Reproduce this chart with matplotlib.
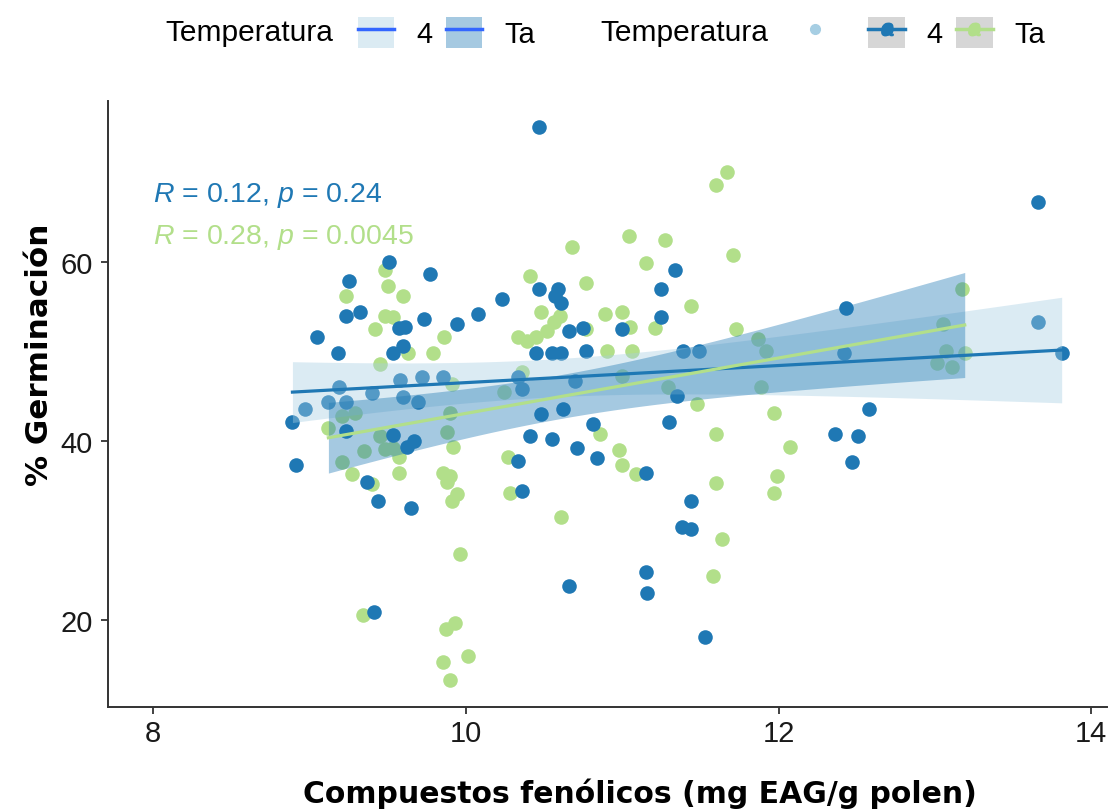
import numpy as np
import matplotlib.pyplot as plt
from matplotlib.patches import Patch
from matplotlib.lines import Line2D

plt.rcParams['font.family'] = ['Liberation Sans', 'DejaVu Sans']
plt.rcParams['mathtext.fontset'] = 'custom'
plt.rcParams['mathtext.rm'] = 'Liberation Sans'
plt.rcParams['mathtext.it'] = 'Liberation Sans:italic'

# fenolicos (mg EAG/g polen) y % germinacion, temperatura 4
x_4 = [9.51, 9.25, 9.77, 9.23, 9.32, 9.05, 9.18, 9.57, 9.61, 9.73, 9.94, 10.08,
       10.23, 9.53, 9.60, 10.47, 10.59, 10.57, 10.61, 10.45, 10.55, 10.61, 10.48,
       10.62, 10.41, 10.55, 8.89, 9.23, 9.53, 9.62, 9.67, 8.91, 10.33, 9.37, 9.44,
       9.65, 10.36, 9.41, 10.66, 9.19, 9.40, 9.58, 9.72, 9.85, 9.60, 9.69, 9.12,
       9.23, 8.97, 10.33, 10.36, 10.47, 11.34, 11.25, 11.25, 10.66, 10.75, 11.00,
       10.77, 11.39, 11.49, 10.70, 11.35, 10.81, 11.30, 10.71, 10.84, 11.15, 11.44,
       11.38, 11.44, 12.36, 11.15, 11.16, 11.53, 12.43, 13.66, 13.81, 12.58, 12.51,
       12.47, 12.42, 13.66]
y_4 = [60.0, 57.9, 58.7, 54.0, 54.4, 51.7, 49.9, 52.7, 52.8, 53.7, 53.1, 54.2,
       55.9, 49.9, 50.6, 57.0, 57.0, 56.2, 55.5, 49.9, 49.9, 49.9, 43.0,
       43.6, 40.6, 40.3, 42.2, 41.1, 40.7, 39.4, 40.0, 37.3, 37.8, 35.5, 33.3,
       32.6, 34.4, 20.9, 23.8, 46.1, 45.4, 46.8, 47.2, 47.2, 45.0, 44.4, 44.4,
       44.4, 43.6, 47.2, 45.8, 75.1, 59.2, 57.0, 53.9, 52.3, 52.7, 52.5,
       50.1, 50.1, 50.1, 46.7, 45.1, 41.9, 42.2, 39.2, 38.1, 36.5, 33.3,
       30.4, 30.2, 40.8, 25.4, 23.0, 18.1, 54.9, 53.3, 49.9, 43.6, 40.6,
       37.7, 49.9, 66.7]

# temperatura ambiente (Ta)
x_ta = [9.48, 9.50, 9.60, 9.23, 9.42, 9.48, 9.53, 9.86, 9.79, 9.63, 10.41, 10.48,
        10.33, 10.39, 10.45, 10.52, 10.56, 10.60, 9.45, 9.12, 9.91, 10.36, 9.92,
        10.27, 10.24, 9.21, 9.29, 9.35, 9.45, 9.48, 9.53, 9.90, 9.88, 9.21, 9.57,
        9.27, 9.40, 9.57, 9.85, 9.90, 9.88, 9.94, 9.91, 10.28, 10.61, 9.96, 9.34,
        9.87, 9.93, 9.85, 10.01, 9.90, 11.67, 11.60, 11.04, 11.27, 10.68, 11.71,
        11.15, 10.77, 11.44, 10.89, 11.00, 11.05, 11.21, 10.77, 11.73, 10.90, 11.06,
        11.87, 11.92, 11.00, 11.29, 11.89, 11.48, 11.97, 10.86, 11.60, 12.07, 10.98,
        11.00, 11.09, 11.60, 11.99, 11.97, 11.64, 11.58, 13.17, 13.05, 13.07, 13.01,
        13.11, 13.19]
y_ta = [59.2, 57.4, 56.2, 56.2, 52.5, 54.0, 53.9, 51.7, 49.9, 49.9, 58.5, 54.5,
        51.7, 51.2, 51.7, 52.3, 53.3, 54.0, 48.6, 41.5, 46.4, 47.7, 39.4,
        38.2, 45.5, 42.8, 43.2, 38.9, 40.6, 39.1, 39.3, 43.2, 41.0, 37.7, 38.3,
        36.3, 35.2, 36.5, 36.5, 36.1, 35.5, 34.1, 33.3, 34.2, 31.5, 27.4, 20.6,
        19.0, 19.7, 15.3, 16.0, 13.3, 70.1, 68.7, 62.9, 62.5, 61.7, 60.8,
        59.9, 57.7, 55.1, 54.2, 54.4, 52.8, 52.7, 52.5, 52.6, 50.1, 50.1,
        51.4, 50.1, 47.3, 46.1, 46.1, 44.2, 43.2, 40.8, 40.8, 39.4, 39.0,
        37.4, 36.3, 35.3, 36.1, 34.2, 29.1, 24.9, 57.0, 53.1, 50.1, 48.8,
        48.3, 49.9]

# recta ajustada (valor en los extremos de x) y semiancho del IC 95 % en esos extremos
fit_ends_4 = [45.5, 50.2]
half_ends_4 = [3.4, 5.9]
fit_ends_ta = [40.4, 53.0]
half_ends_ta = [3.95, 5.87]

labels_temp = ['4', 'Ta']
stat_4 = r'$R$ = 0.12, $p$ = 0.24'
stat_ta = r'$R$ = 0.28, $p$ = 0.0045'

col_4 = '#1f78b4'
col_ta = '#b2df8a'
fill_4 = '#a6cee3'
fill_ta = '#1f78b4'


def lm_band(x, fit_ends, half_ends, n=100):
    # banda del IC de una recta lm: semiancho^2 = a + c*(x - media)^2
    x = np.asarray(x)
    xm = x.mean()
    x0, x1 = x.min(), x.max()
    d0, d1 = x0 - xm, x1 - xm
    h0, h1 = half_ends
    c = (h1 ** 2 - h0 ** 2) / (d1 ** 2 - d0 ** 2)
    a = h0 ** 2 - c * d0 ** 2
    xs = np.linspace(x0, x1, n)
    slope = (fit_ends[1] - fit_ends[0]) / (x1 - x0)
    fit = fit_ends[0] + slope * (xs - x0)
    half = np.sqrt(a + c * (xs - xm) ** 2)
    return xs, fit, fit - half, fit + half


fig = plt.figure(figsize=(11.13, 8.12), dpi=100)
ax = fig.add_axes([0.097, 0.128, 0.8976, 0.746])

ax.scatter(x_ta, y_ta, s=110, color=col_ta, linewidths=0, zorder=2)
ax.scatter(x_4, y_4, s=110, color=col_4, linewidths=0, zorder=2)

xs4, f4, lo4, hi4 = lm_band(x_4, fit_ends_4, half_ends_4)
xst, ft, lot, hit = lm_band(x_ta, fit_ends_ta, half_ends_ta)
ax.fill_between(xs4, lo4, hi4, color=fill_4, alpha=0.4, lw=0, zorder=3)
ax.fill_between(xst, lot, hit, color=fill_ta, alpha=0.4, lw=0, zorder=3)
ax.plot(xs4, f4, color=col_4, lw=2.3, zorder=4)
ax.plot(xst, ft, color=col_ta, lw=2.3, zorder=4)

ax.text(8.0, 67.6, stat_4, color=col_4, fontsize=20.5, va='center', ha='left')
ax.text(8.0, 62.9, stat_ta, color=col_ta, fontsize=20.5, va='center', ha='left')

ax.set_xlim(7.71, 14.1)
ax.set_ylim(10.3, 78.0)
ax.set_xticks([8, 10, 12, 14])
ax.set_yticks([20, 40, 60])
for side in ['top', 'right']:
    ax.spines[side].set_visible(False)
for side in ['left', 'bottom']:
    ax.spines[side].set_linewidth(1.4)
    ax.spines[side].set_color('#333333')
ax.tick_params(labelsize=21, length=5, width=1.3, color='#333333',
               labelcolor='#1a1a1a')
ax.tick_params(axis='y', pad=6)

ax.set_xlabel('Compuestos fenólicos (mg EAG/g polen)', fontsize=21.5,
              fontweight='bold', family='DejaVu Sans')
ax.set_ylabel('% Germinación', fontsize=22.3, fontweight='bold',
              family='DejaVu Sans')
ax.xaxis.set_label_coords(0.5325, -0.1155)
ax.yaxis.set_label_coords(-0.054, 0.5825)

# leyendas superiores
ley_y = 0.959
fig.text(165 / 1113, ley_y, 'Temperatura', fontsize=21.5, va='center', ha='left')
h_fill = [(Patch(facecolor=fill_4, alpha=0.4, edgecolor='none'),
           Line2D([], [], color='#3366ff', lw=2.5)),
          (Patch(facecolor=fill_ta, alpha=0.4, edgecolor='none'),
           Line2D([], [], color='#3366ff', lw=2.5))]
fig.legend(h_fill, labels_temp, loc='center left', bbox_to_anchor=(358 / 1113, ley_y),
           ncol=2, frameon=False, fontsize=21, handlelength=1.25, handleheight=1.25,
           handletextpad=0.75, columnspacing=0.45, borderpad=0, borderaxespad=0)

fig.text(600 / 1113, ley_y, 'Temperatura', fontsize=21.5, va='center', ha='left')
h_pts = [Line2D([], [], ls='', marker='o', ms=7, color=fill_4)]
for c in [col_4, col_ta]:
    h_pts.append((Patch(facecolor='#d6d6d6', edgecolor='none'),
                  Line2D([], [], color=c, lw=2.5, marker='o', ms=8),
                  Line2D([], [], ls='', marker='$a$', ms=9, color=c)))
fig.legend(h_pts, [''] + labels_temp, loc='center left', bbox_to_anchor=(797 / 1113, ley_y),
           ncol=3, frameon=False, fontsize=21, handlelength=1.25, handleheight=1.25,
           handletextpad=0.75, columnspacing=0.45, borderpad=0, borderaxespad=0)

fig.savefig('out.png', dpi=100)
